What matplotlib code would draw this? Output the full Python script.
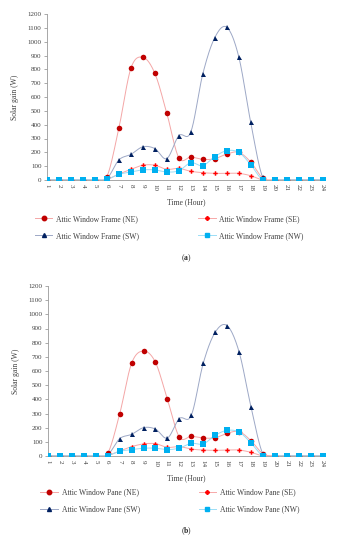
import numpy as np
import matplotlib
matplotlib.use('Agg')
from matplotlib import pyplot as plt
from matplotlib.lines import Line2D

plt.rcParams['font.family'] = ['Liberation Serif', 'DejaVu Serif']
plt.rcParams['mathtext.fontset'] = 'custom'
plt.rcParams['mathtext.rm'] = 'Liberation Serif'
plt.rcParams['mathtext.bf'] = 'Liberation Serif:bold'

hours = list(range(1, 25))

# Panel (a): attic window frame, solar gain (W)
frame_ne = [0, 0, 0, 0, 0, 25, 376, 807, 887, 771, 482, 161, 166, 149, 154, 188, 200, 130, 14, 0, 0, 0, 0, 0]
frame_se = [0, 0, 0, 0, 0, 5, 43, 77, 107, 107, 77, 84, 63, 53, 48, 48, 48, 31, 0, 0, 0, 0, 0, 0]
frame_sw = [0, 0, 0, 0, 0, 10, 145, 185, 240, 227, 155, 320, 347, 766, 1029, 1104, 892, 417, 19, 0, 0, 0, 0, 0]
frame_nw = [0, 0, 0, 0, 0, 5, 41, 58, 73, 73, 58, 67, 125, 104, 169, 212, 200, 111, 0, 0, 0, 0, 0, 0]

# Panel (b): attic window pane, solar gain (W)
pane_ne = [0, 0, 0, 0, 0, 19, 296, 654, 741, 661, 400, 134, 139, 127, 129, 160, 172, 108, 16, 0, 0, 0, 0, 0]
pane_se = [0, 0, 0, 0, 0, 5, 35, 66, 85, 87, 61, 66, 49, 42, 40, 42, 42, 26, 0, 0, 0, 0, 0, 0]
pane_sw = [0, 0, 0, 0, 0, 8, 122, 153, 200, 190, 127, 264, 287, 654, 873, 920, 736, 348, 14, 0, 0, 0, 0, 0]
pane_nw = [0, 0, 0, 0, 0, 3, 33, 45, 55, 55, 45, 56, 89, 85, 146, 181, 169, 92, 0, 0, 0, 0, 0, 0]

directions = ['NE', 'SE', 'SW', 'NW']
marker_colors = ['#C00000', '#FF0000', '#002060', '#00B0F0']
line_colors = ['#F4A6A6', '#F7A8A8', '#9DA8C6', '#9ADDF6']
markers = ['o', 'P', '^', 's']
marker_sizes = [4.0, 3.2, 3.6, 3.8]
text_color = '#404040'


def smooth(x, y, n=20):
    # excel-style smoothed line (bezier through the points)
    x = np.asarray(x, float)
    y = np.asarray(y, float)
    px = np.concatenate([[x[0]], x, [x[-1]]])
    py = np.concatenate([[y[0]], y, [y[-1]]])
    xs, ys = [], []
    t = np.linspace(0, 1, n)
    for i in range(1, len(px) - 2):
        p0 = np.array([px[i], py[i]])
        p3 = np.array([px[i + 1], py[i + 1]])
        p1 = p0 + (np.array([px[i + 1], py[i + 1]]) - np.array([px[i - 1], py[i - 1]])) / 6
        p2 = p3 - (np.array([px[i + 2], py[i + 2]]) - np.array([px[i], py[i]])) / 6
        b = (((1 - t) ** 3)[:, None] * p0 + (3 * (1 - t) ** 2 * t)[:, None] * p1
             + (3 * (1 - t) * t ** 2)[:, None] * p2 + (t ** 3)[:, None] * p3)
        xs.extend(b[:, 0])
        ys.extend(b[:, 1])
    return xs, ys


def draw_panel(ax, series, name, letter, leg_y, lab_y):
    handles = []
    for vals, d, mc, lc, mk, ms in zip(series, directions, marker_colors, line_colors, markers, marker_sizes):
        sx, sy = smooth(hours, vals)
        ax.plot(sx, sy, color=lc, lw=0.7, zorder=2)
    for vals, d, mc, lc, mk, ms in zip(series, directions, marker_colors, line_colors, markers, marker_sizes):
        ax.plot(hours, vals, ls='none', marker=mk, color=mc, ms=ms, mew=0, zorder=3)
        handles.append(Line2D([], [], color=lc, lw=0.7, marker=mk, mfc=mc, mec=mc, ms=ms * 0.8,
                              label=f'Attic Window {name} ({d})'))

    ax.set_xlim(1, 24.2)
    ax.set_ylim(0, 1200)
    ax.set_yticks(range(0, 1201, 100))
    ax.set_xticks(hours)
    ax.set_xticklabels([str(h) for h in hours], rotation=-90)
    ax.tick_params(axis='both', labelsize=5, length=2, width=0.5, color='#888888', pad=2,
                   labelcolor=text_color)
    ax.tick_params(axis='x', length=0, pad=3)
    for s in ['top', 'right']:
        ax.spines[s].set_visible(False)
    for s in ['left', 'bottom']:
        ax.spines[s].set_color('#999999')
        ax.spines[s].set_linewidth(0.6)
    ax.set_ylabel('Solar gain (W)', fontsize=5.5, labelpad=6, color=text_color)
    ax.set_xlabel('Time (Hour)', fontsize=5.5, labelpad=5, color=text_color)

    # row-wise order: NE, SE / SW, NW
    order = [handles[0], handles[2], handles[1], handles[3]]
    leg = ax.legend(handles=order, ncol=2, loc='upper center', bbox_to_anchor=(0.44, leg_y),
                    fontsize=5.5, frameon=False, handlelength=2.3, handletextpad=0.5,
                    columnspacing=7.7, labelspacing=1.2)
    for t in leg.get_texts():
        t.set_color(text_color)
    ax.text(0.5, lab_y, r'($\mathbf{' + letter + '}$)', transform=ax.transAxes, fontsize=5.5,
            ha='center', va='center', color='#222222')


fig = plt.figure(figsize=(3.4, 5.5), dpi=100)
ax_a = fig.add_axes([47 / 340, 1 - 180 / 550, 278 / 340, 166 / 550])
ax_b = fig.add_axes([48 / 340, 1 - 456 / 550, 277 / 340, 170 / 550])

draw_panel(ax_a, [frame_ne, frame_se, frame_sw, frame_nw], 'Frame', 'a', -0.168, -0.47)
draw_panel(ax_b, [pane_ne, pane_se, pane_sw, pane_nw], 'Pane', 'b', -0.15, -0.44)

fig.savefig('out.png', dpi=100, facecolor='white')
